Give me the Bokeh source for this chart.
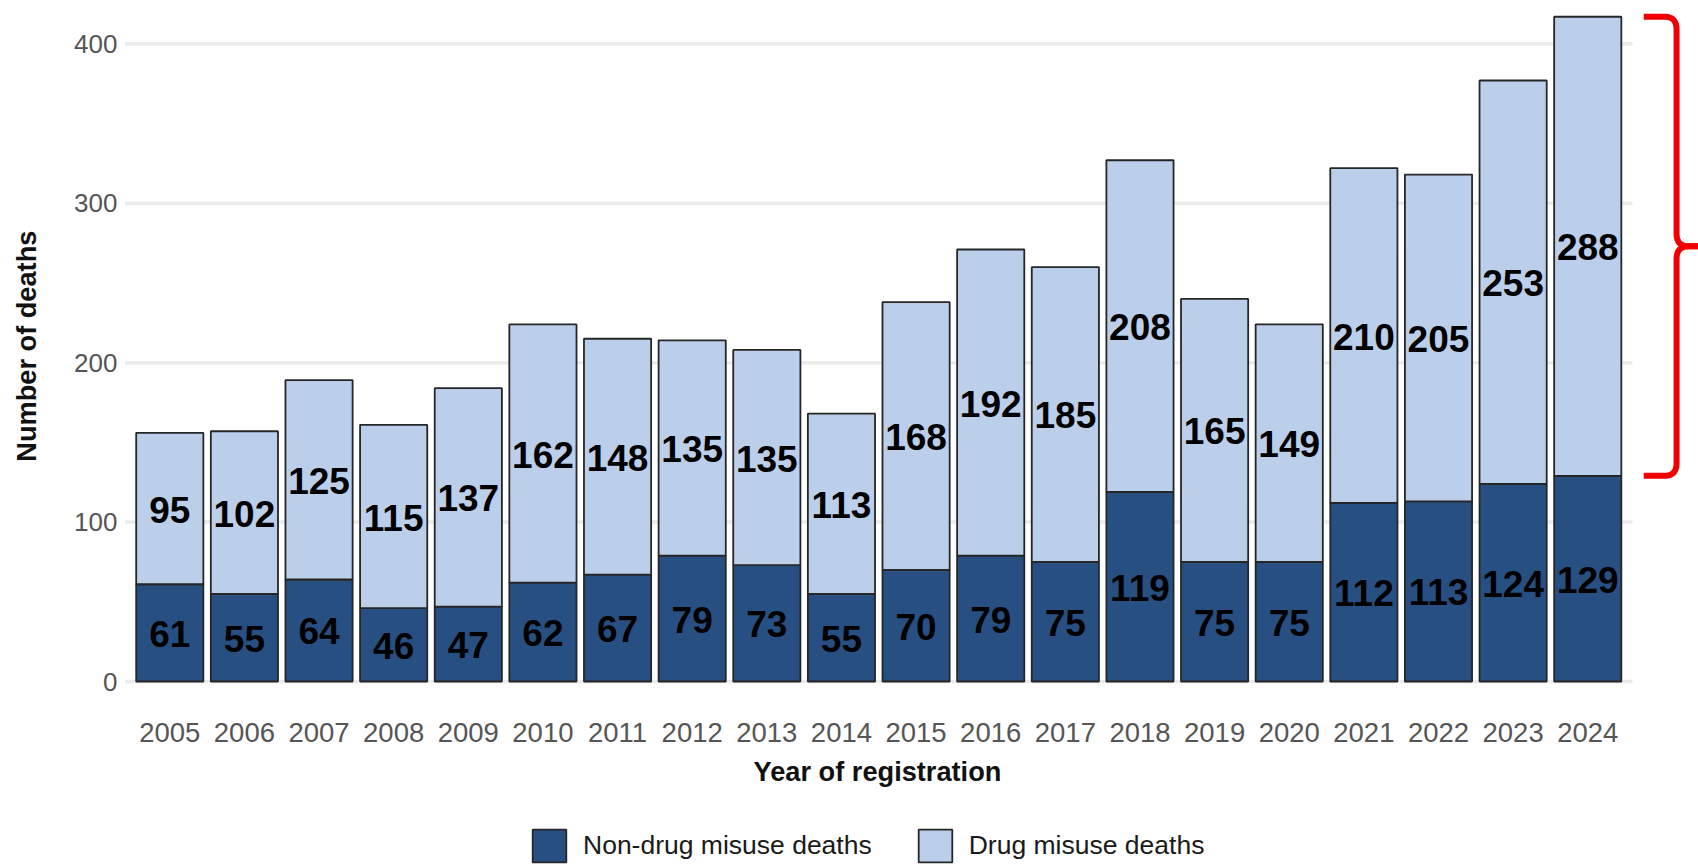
import numpy as np
from bokeh.plotting import figure
from bokeh.layouts import column
from bokeh.models import Range1d, FixedTicker, ColumnDataSource, Legend
from bokeh.core.properties import value
from bokeh.embed import file_html
from bokeh.resources import INLINE

# ---- data -------------------------------------------------------------
years = ["2005", "2006", "2007", "2008", "2009", "2010", "2011", "2012", "2013", "2014",
         "2015", "2016", "2017", "2018", "2019", "2020", "2021", "2022", "2023", "2024"]
non_drug = [61, 55, 64, 46, 47, 62, 67, 79, 73, 55, 70, 79, 75, 119, 75, 75, 112, 113, 124, 129]
drug = [95, 102, 125, 115, 137, 162, 148, 135, 135, 113, 168, 192, 185, 208, 165, 149, 210, 205, 253, 288]
y_ticks = [0, 100, 200, 300, 400]
series_names = ["Non-drug misuse deaths", "Drug misuse deaths"]
x_title = "Year of registration"
y_title = "Number of deaths"

# ---- style ------------------------------------------------------------
DARK = "#284F82"
LIGHT = "#BBCFEA"
EDGE = "#262626"
FONT = "Liberation Sans"
NBSP = "\u00a0"

xs = [i + 1 for i in range(len(years))]
totals = [a + b for a, b in zip(non_drug, drug)]
mid_low = [a / 2 for a in non_drug]
mid_high = [a + b / 2 for a, b in zip(non_drug, drug)]

src = ColumnDataSource(dict(x=xs, non_drug=non_drug, drug=drug))

p = figure(width=1698, height=825, output_backend="svg", toolbar_location=None,
           x_range=Range1d(0.3933, 21.484), y_range=Range1d(-20.7, 427.2),
           min_border_left=124, min_border_right=0, min_border_top=0, min_border_bottom=111)
p.outline_line_color = None
p.xgrid.visible = False
p.ygrid.visible = False

# grid lines (span only the category area, like ggplot)
gx0 = xs[0] - 0.6
gx1 = xs[-1] + 0.6
p.segment(x0=[gx0] * len(y_ticks), x1=[gx1] * len(y_ticks), y0=y_ticks, y1=y_ticks,
          line_color="#EBEBEB", line_width=3.5)

# stacked bars
bar_kw = dict(width=0.9, line_color=EDGE, line_width=1.8)
rs = p.vbar_stack(["non_drug", "drug"], x="x", color=[DARK, LIGHT], source=src, **bar_kw)

# value labels
lbl_kw = dict(text_font=value(FONT), text_font_style="bold", text_font_size="37px",
              text_align="center", text_baseline="middle", text_color="#000000")
p.text(x=xs, y=mid_low, text=[str(v) for v in non_drug], y_offset=1, **lbl_kw)
p.text(x=xs, y=mid_high, text=[str(v) for v in drug], y_offset=1, **lbl_kw)

# red curly brace beside the last bar's drug-misuse segment
def quad(p0, c, p1, n=14):
    t = np.linspace(0, 1, n)
    qx = (1 - t) ** 2 * p0[0] + 2 * (1 - t) * t * c[0] + t ** 2 * p1[0]
    qy = (1 - t) ** 2 * p0[1] + 2 * (1 - t) * t * c[1] + t ** 2 * p1[1]
    return list(qx), list(qy)

xl = xs[-1]
b_top = totals[-1]
b_bot = non_drug[-1]
b_mid = (b_top + b_bot) / 2
x_h = xl + 0.75
x_v = xl + 1.19
x_tip = xl + 1.7
rx, ry = 0.16, 8.0

ax, ay = [x_h], [b_top]
qx, qy = quad((x_v - rx, b_top), (x_v, b_top), (x_v, b_top - ry)); ax += qx; ay += qy
qx, qy = quad((x_v, b_mid + ry), (x_v, b_mid), (x_v + rx, b_mid)); ax += qx; ay += qy
ax.append(x_tip); ay.append(b_mid)

bx, by = [x_tip], [b_mid]
qx, qy = quad((x_v + rx, b_mid), (x_v, b_mid), (x_v, b_mid - ry)); bx += qx; by += qy
qx, qy = quad((x_v, b_bot + ry), (x_v, b_bot), (x_v - rx, b_bot)); bx += qx; by += qy
bx.append(x_h); by.append(b_bot)

p.multi_line(xs=[ax, bx], ys=[ay, by], line_color="#F00000", line_width=6,
             line_join="round", line_cap="butt")

# axes
p.xaxis.ticker = FixedTicker(ticks=xs)
p.xaxis.major_label_overrides = {x: y for x, y in zip(xs, years)}
p.yaxis.ticker = FixedTicker(ticks=y_ticks)
for ax_ in (p.xaxis[0], p.yaxis[0]):
    ax_.axis_line_color = None
    ax_.major_tick_line_color = None
    ax_.minor_tick_line_color = None
    ax_.major_tick_out = 0
    ax_.major_tick_in = 0
    ax_.minor_tick_out = 0
    ax_.minor_tick_in = 0
    ax_.major_label_text_font = FONT
    ax_.major_label_text_color = "#555555"
    ax_.axis_label_text_font = FONT
    ax_.axis_label_text_font_style = "bold"
    ax_.axis_label_text_font_size = "27.2px"
    ax_.axis_label_text_color = "#111111"
p.xaxis.major_label_text_font_size = "27.5px"
p.yaxis.major_label_text_font_size = "26px"
# titles are centred over the bar area (the frame also holds the brace): pad with no-break spaces
p.xaxis.axis_label = x_title + NBSP * 9
p.yaxis.axis_label = NBSP * 3 + y_title
p.xaxis.major_label_standoff = 8
p.xaxis.axis_label_standoff = 11
p.yaxis.major_label_standoff = 7
p.yaxis.axis_label_standoff = 29

# legend strip beneath the chart (same borders as the chart so frames line up)
lg = figure(width=1698, height=41, output_backend="svg", toolbar_location=None,
            x_range=Range1d(0, 1), y_range=Range1d(0, 1),
            min_border_left=124, min_border_right=0, min_border_top=0, min_border_bottom=0)
lg.outline_line_color = None
lg.axis.visible = False
lg.grid.visible = False
keys = lg.vbar_stack(["non_drug", "drug"], x="x", color=[DARK, LIGHT], source=src, **bar_kw)
for k in keys:
    k.visible = False
legend = Legend(items=[(series_names[0], [keys[0]]), (series_names[1], [keys[1]])],
                orientation="horizontal", location=(404, 0),
                padding=0, margin=0, spacing=42,
                glyph_width=42, glyph_height=41, label_standoff=13,
                border_line_color=None, background_fill_alpha=0,
                label_text_font=FONT, label_text_font_size="26.5px",
                label_text_color="#1A1A1A")
lg.add_layout(legend)

open("out.html", "w").write(file_html(column(p, lg, spacing=0), INLINE))
